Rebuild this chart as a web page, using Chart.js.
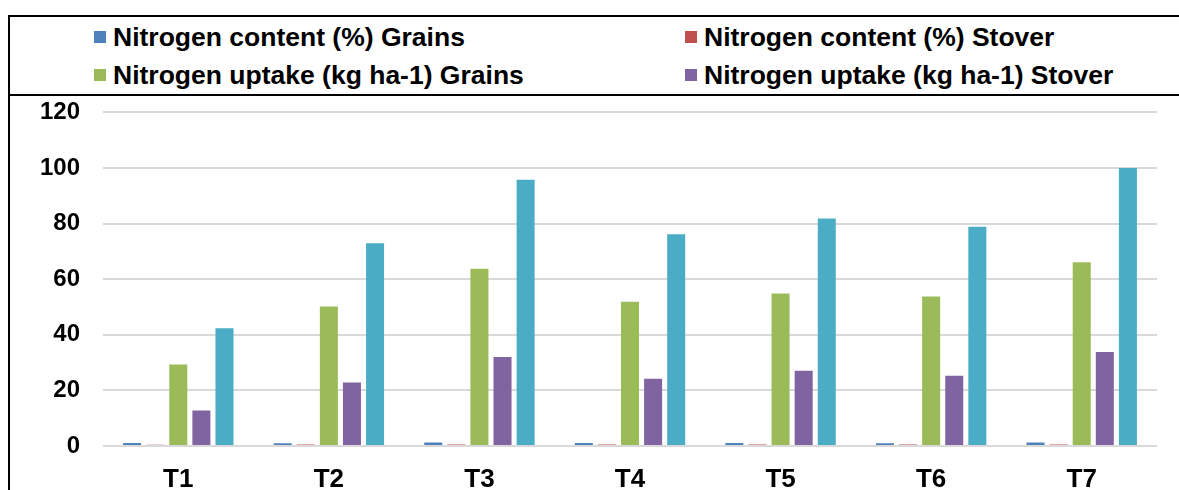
<!DOCTYPE html>
<html>
<head>
<meta charset="utf-8">
<script src="https://cdn.jsdelivr.net/npm/chart.js@4"></script>
<style>
  html, body { margin: 0; padding: 0; background: #fff; overflow: hidden; }
  body { width: 1179px; height: 490px; position: relative; font-family: "Liberation Sans", Arial, sans-serif; }
  #frame { position: absolute; left: 8px; top: 15px; width: 1200px; height: 520px; border: 2px solid #000; box-sizing: border-box; }
  #divider { position: absolute; left: 8px; top: 94px; width: 1200px; height: 2px; background: #000; }
  #legend .item { position: absolute; font-weight: bold; font-size: 26.5px; color: #000; white-space: nowrap; line-height: 30px; }
  #legend .box { position: absolute; width: 12px; height: 12px; }
  #chartWrap { position: absolute; left: 10px; top: 75px; }
</style>
</head>
<body>
<div id="frame"></div>
<div id="divider"></div>
<div id="legend"></div>
<div id="chartWrap"><canvas id="myChart" width="1169" height="415"></canvas></div>
<script>
document.addEventListener("DOMContentLoaded", function () {
  // Data
  const treatments = ["T1", "T2", "T3", "T4", "T5", "T6", "T7"];
  const nContentGrains = [1.05, 1.0, 1.25, 1.1, 1.1, 1.0, 1.25];
  const nContentStover = [0.45, 0.5, 0.55, 0.5, 0.5, 0.55, 0.55];
  const nUptakeGrains = [29.3, 50.2, 63.8, 51.9, 54.9, 53.8, 66.1];
  const nUptakeStover = [12.8, 22.8, 32.0, 24.2, 27.1, 25.3, 33.8];
  const nUptakeTotal = [42.4, 72.9, 95.8, 76.2, 81.8, 78.9, 100.0];
  const yTicks = [0, 20, 40, 60, 80, 100, 120];

  const ctx = document.getElementById("myChart").getContext("2d");

  const chartData = {
    labels: treatments,
    datasets: [
      { label: "Nitrogen content (%) Grains", data: nContentGrains, backgroundColor: "#4F81BD" },
      { label: "Nitrogen content (%) Stover", data: nContentStover, backgroundColor: "#C0504D" },
      { label: "Nitrogen uptake (kg ha-1) Grains", data: nUptakeGrains, backgroundColor: "#9BBB59" },
      { label: "Nitrogen uptake (kg ha-1) Stover", data: nUptakeStover, backgroundColor: "#8064A2" },
      // fifth series, its legend entry is cut off in the original
      { label: "Total nitrogen uptake (kg ha-1)", data: nUptakeTotal, backgroundColor: "#4BACC6", inLegend: false }
    ]
  };
  chartData.datasets.forEach(ds => {
    ds.categoryPercentage = 0.767;
    ds.barPercentage = 0.78;
    ds.borderWidth = 0;
  });

  const myChart = new Chart(ctx, {
    type: "bar",
    data: chartData,
    options: {
      responsive: false,
      devicePixelRatio: 1,
      animation: false,
      layout: { padding: { top: 0, right: 22, left: 0, bottom: 0 } },
      plugins: {
        legend: { display: false },
        tooltip: { enabled: false }
      },
      scales: {
        x: {
          grid: { display: false },
          border: { display: false },
          ticks: {
            color: "#000",
            padding: 10,
            font: { family: "Liberation Sans, Arial", size: 26, weight: "bold" }
          },
          afterFit: s => { s.height = 44; }
        },
        y: {
          min: 0,
          max: yTicks[yTicks.length - 1],
          afterBuildTicks: s => { s.ticks = yTicks.map(v => ({ value: v })); },
          grid: { color: "#d9d9d9", lineWidth: 2, drawTicks: false },
          border: { display: false },
          ticks: {
            color: "#000",
            padding: 23,
            font: { family: "Liberation Sans, Arial", size: 24, weight: "bold" }
          },
          afterFit: s => { s.width = 93; }
        }
      }
    }
  });

  // Legend laid out in two columns like the original
  const legend = document.getElementById("legend");
  const cols = [94, 685];
  const rows = [37, 75];
  let n = 0;
  myChart.data.datasets.forEach(ds => {
    if (ds.inLegend === false) return;
    const x = cols[n % 2];
    const y = rows[Math.floor(n / 2)];
    const box = document.createElement("div");
    box.className = "box";
    box.style.left = x + "px";
    box.style.top = (y - 6) + "px";
    box.style.background = ds.backgroundColor;
    legend.appendChild(box);
    const item = document.createElement("div");
    item.className = "item";
    item.style.left = (x + 19) + "px";
    item.style.top = (y - 15) + "px";
    item.textContent = ds.label;
    legend.appendChild(item);
    n++;
  });
});
</script>
</body>
</html>
